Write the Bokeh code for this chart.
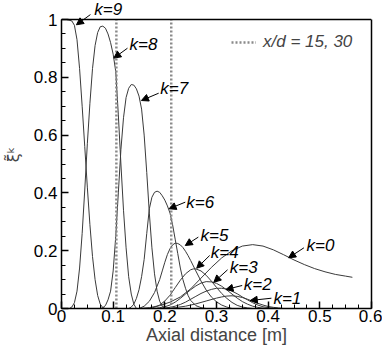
import numpy as np
from bokeh.plotting import figure
from bokeh.models import (Range1d, FixedTicker, Label, Arrow, NormalHead, Legend, LegendItem,
                          Span, LinearAxis)
from bokeh.embed import file_html
from bokeh.resources import INLINE

# ---------------- data ----------------
k9_x = [0.0, 0.01, 0.02, 0.025, 0.03, 0.035, 0.04, 0.045, 0.05, 0.055, 0.06, 0.065, 0.07, 0.075, 0.08, 0.085]
k9_y = [1.0, 1.0, 0.995, 0.98, 0.93, 0.83, 0.70, 0.56, 0.42, 0.29, 0.18, 0.10, 0.045, 0.015, 0.003, 0.0]

k8_x = [0.015, 0.02, 0.025, 0.03, 0.035, 0.04, 0.045, 0.05, 0.055, 0.06, 0.065, 0.07, 0.075, 0.08,
        0.085, 0.09, 0.095, 0.1, 0.105, 0.11, 0.115, 0.12, 0.125, 0.13, 0.135, 0.14, 0.145]
k8_y = [0.0, 0.005, 0.02, 0.06, 0.14, 0.26, 0.41, 0.57, 0.71, 0.83, 0.91, 0.955, 0.975, 0.977,
        0.97, 0.95, 0.92, 0.88, 0.82, 0.67, 0.50, 0.34, 0.21, 0.11, 0.05, 0.015, 0.0]

k7_x = [0.075, 0.08, 0.085, 0.09, 0.095, 0.1, 0.105, 0.11, 0.115, 0.12, 0.125, 0.13, 0.135, 0.14,
        0.145, 0.15, 0.155, 0.16, 0.165, 0.17, 0.175, 0.18, 0.185, 0.19, 0.195, 0.2]
k7_y = [0.0, 0.003, 0.01, 0.03, 0.06, 0.13, 0.25, 0.40, 0.55, 0.66, 0.73, 0.762, 0.775, 0.773,
        0.76, 0.735, 0.69, 0.60, 0.47, 0.33, 0.21, 0.12, 0.06, 0.025, 0.008, 0.0]

k6_x = [0.13, 0.135, 0.14, 0.145, 0.15, 0.155, 0.16, 0.165, 0.17, 0.175, 0.18, 0.185, 0.19, 0.195,
        0.2, 0.205, 0.21, 0.215, 0.22, 0.225, 0.23, 0.235, 0.24, 0.245, 0.25, 0.26, 0.27, 0.28]
k6_y = [0.0, 0.005, 0.015, 0.035, 0.065, 0.11, 0.17, 0.26, 0.345, 0.385, 0.402, 0.406, 0.402, 0.39,
        0.375, 0.355, 0.33, 0.29, 0.24, 0.19, 0.14, 0.10, 0.07, 0.045, 0.028, 0.01, 0.003, 0.0]

k5_x = [0.15, 0.16, 0.17, 0.18, 0.19, 0.195, 0.2, 0.205, 0.21, 0.215, 0.22, 0.225, 0.23, 0.235,
        0.24, 0.245, 0.25, 0.26, 0.27, 0.28, 0.29, 0.3, 0.31, 0.32, 0.33]
k5_y = [0.0, 0.008, 0.025, 0.055, 0.10, 0.13, 0.16, 0.187, 0.207, 0.22, 0.226, 0.225, 0.22, 0.211,
        0.198, 0.183, 0.166, 0.13, 0.095, 0.064, 0.04, 0.023, 0.012, 0.005, 0.0]

k4_x = [0.17, 0.18, 0.19, 0.2, 0.21, 0.22, 0.23, 0.24, 0.25, 0.255, 0.26, 0.27, 0.28, 0.29, 0.3,
        0.31, 0.32, 0.33, 0.34, 0.35, 0.36, 0.37]
k4_y = [0.0, 0.004, 0.012, 0.026, 0.046, 0.072, 0.098, 0.12, 0.134, 0.137, 0.137, 0.13, 0.115,
        0.095, 0.073, 0.052, 0.035, 0.021, 0.011, 0.005, 0.002, 0.0]

k3_x = [0.18, 0.19, 0.2, 0.21, 0.22, 0.23, 0.24, 0.25, 0.26, 0.27, 0.28, 0.29, 0.3, 0.31, 0.32,
        0.33, 0.34, 0.35, 0.36, 0.37, 0.38, 0.39, 0.4]
k3_y = [0.0, 0.003, 0.006, 0.012, 0.022, 0.035, 0.05, 0.065, 0.078, 0.088, 0.093, 0.092, 0.087,
        0.077, 0.064, 0.05, 0.036, 0.024, 0.015, 0.008, 0.004, 0.001, 0.0]

k2_x = [0.19, 0.2, 0.21, 0.22, 0.23, 0.24, 0.25, 0.26, 0.27, 0.28, 0.29, 0.3, 0.31, 0.32, 0.33,
        0.34, 0.35, 0.36, 0.37, 0.38, 0.39, 0.4, 0.41, 0.42]
k2_y = [0.0, 0.002, 0.004, 0.008, 0.014, 0.022, 0.032, 0.042, 0.052, 0.06, 0.066, 0.07, 0.07,
        0.067, 0.06, 0.051, 0.04, 0.03, 0.02, 0.012, 0.006, 0.003, 0.001, 0.0]

k1_x = [0.2, 0.22, 0.24, 0.26, 0.28, 0.3, 0.31, 0.32, 0.33, 0.34, 0.35, 0.36, 0.37, 0.38, 0.39,
        0.4, 0.41, 0.42, 0.43]
k1_y = [0.0, 0.003, 0.008, 0.016, 0.026, 0.036, 0.04, 0.043, 0.044, 0.042, 0.038, 0.032, 0.025,
        0.018, 0.012, 0.007, 0.004, 0.002, 0.0]

k0_x = [0.15, 0.17, 0.19, 0.21, 0.23, 0.25, 0.27, 0.29, 0.31, 0.33, 0.35, 0.37, 0.39, 0.41, 0.43,
        0.45, 0.47, 0.49, 0.51, 0.53, 0.55, 0.563]
k0_y = [0.0, 0.003, 0.01, 0.022, 0.04, 0.068, 0.105, 0.142, 0.175, 0.2, 0.216, 0.221, 0.216, 0.203,
        0.186, 0.168, 0.152, 0.138, 0.127, 0.118, 0.112, 0.108]

# x/d markers
xd_values = [15, 30]
d_jet = 0.00708  # m

x_ticks = [0, 0.1, 0.2, 0.3, 0.4, 0.5, 0.6]
x_tick_labels = ["0", "0.1", "0.2", "0.3", "0.4", "0.5", "0.6"]
y_ticks = [0, 0.2, 0.4, 0.6, 0.8, 1.0]
y_tick_labels = ["0", "0.2", "0.4", "0.6", "0.8", "1"]

curve_names = ["k=0", "k=1", "k=2", "k=3", "k=4", "k=5", "k=6", "k=7", "k=8", "k=9"]

# label / arrow layout (data coordinates)
label_pos = {
    "k=9": (0.0906, 1.036), "k=8": (0.1585, 0.9135), "k=7": (0.2183, 0.760),
    "k=6": (0.2686, 0.368), "k=5": (0.2962, 0.2526), "k=4": (0.316, 0.193),
    "k=3": (0.3528, 0.143), "k=2": (0.3798, 0.083), "k=1": (0.4372, 0.0336),
    "k=0": (0.5013, 0.218),
}
arrow_pos = {
    "k=9": (0.056, 1.017, 0.0289, 0.9817), "k=8": (0.1277, 0.9007, 0.1013, 0.8664),
    "k=7": (0.1881, 0.745, 0.1547, 0.7197), "k=6": (0.2396, 0.368, 0.2082, 0.345),
    "k=5": (0.2648, 0.247, 0.2396, 0.218), "k=4": (0.2868, 0.1834, 0.2617, 0.1394),
    "k=3": (0.3214, 0.1339, 0.2949, 0.091), "k=2": (0.3497, 0.0796, 0.3183, 0.0657),
    "k=1": (0.4063, 0.0356, 0.3654, 0.0277), "k=0": (0.4692, 0.21, 0.4396, 0.1754),
}

FONT = "Liberation Sans"
Y_TOP = 1 + 19 / 289  # room above the box for the k=9 label

p = figure(width=382, height=349, output_backend="svg", toolbar_location=None,
           x_range=Range1d(0, 0.6), y_range=Range1d(0, Y_TOP),
           min_border_left=53, min_border_right=11, min_border_top=0, min_border_bottom=41)
p.background_fill_color = "white"
p.border_fill_color = "white"
p.outline_line_color = None
p.xgrid.visible = False
p.ygrid.visible = False

xs_all = [k0_x, k1_x, k2_x, k3_x, k4_x, k5_x, k6_x, k7_x, k8_x, k9_x]
ys_all = [k0_y, k1_y, k2_y, k3_y, k4_y, k5_y, k6_y, k7_y, k8_y, k9_y]
for xs, ys in zip(xs_all, ys_all):
    p.line(xs, ys, line_color="#3a3a3a", line_width=1)

xd_pos = [v * d_jet for v in xd_values]
seg = p.segment(x0=xd_pos, x1=xd_pos, y0=[0, 0], y1=[1, 1], line_color="#8a8a8a",
                line_width=2.5, line_dash="2 2")

# box: top line + right axis (no ticks)
p.add_layout(Span(location=1, dimension="width", line_color="black", line_width=1.5))
right_ax = LinearAxis(bounds=(0, 1), ticker=FixedTicker(ticks=[], minor_ticks=[]),
                      axis_line_width=1.5, axis_line_color="black",
                      major_tick_line_color=None, minor_tick_line_color=None)
p.add_layout(right_ax, "right")

legend = Legend(items=[LegendItem(label="x/d = 15, 30", renderers=[seg])],
                location=(170, 256), padding=0, margin=0, spacing=0,
                glyph_width=25, glyph_height=20, label_height=20, label_standoff=7,
                border_line_color=None, background_fill_alpha=0,
                label_text_font=FONT, label_text_font_size="17px",
                label_text_font_style="italic")
p.add_layout(legend, "center")

for name in curve_names:
    lx, ly = label_pos[name]
    p.add_layout(Label(x=lx, y=ly, text=name, text_font=FONT, text_font_size="17px",
                       text_font_style="italic", text_align="center", text_baseline="middle",
                       text_color="black"))
    x0, y0, x1, y1 = arrow_pos[name]
    p.add_layout(Arrow(end=NormalHead(size=7, fill_color="black", line_color="black", line_width=1),
                       x_start=x0, y_start=y0, x_end=x1, y_end=y1, line_color="black", line_width=1))

# axes
xa = p.xaxis[0]
ya = p.yaxis[0]
xa.ticker = FixedTicker(ticks=x_ticks, minor_ticks=list(np.round(np.arange(0, 0.6001, 0.025), 4)))
ya.ticker = FixedTicker(ticks=y_ticks, minor_ticks=list(np.round(np.arange(0, 1.0001, 0.05), 4)))
xa.major_label_overrides = {t: l for t, l in zip(x_ticks, x_tick_labels)}
ya.major_label_overrides = {t: l for t, l in zip(y_ticks, y_tick_labels)}
ya.bounds = (0, 1)

for ax in (xa, ya):
    ax.axis_line_width = 1.5
    ax.axis_line_color = "black"
    ax.major_tick_in = 7
    ax.major_tick_out = 0
    ax.minor_tick_in = 4
    ax.minor_tick_out = 0
    ax.major_tick_line_width = 1.5
    ax.major_tick_line_color = "black"
    ax.minor_tick_line_color = "black"
    ax.major_label_text_font = FONT
    ax.major_label_text_font_size = "17px"
    ax.major_label_text_color = "black"

xa.axis_label = "Axial distance [m]"
xa.axis_label_text_font = FONT
xa.axis_label_text_font_size = "18px"
xa.axis_label_text_font_style = "normal"
xa.axis_label_standoff = 0
xa.major_label_standoff = 1

ya.axis_label = "ξ\u0303\u1d4f"
ya.axis_label_text_font = "DejaVu Sans"
ya.axis_label_text_font_size = "16px"
ya.axis_label_text_font_style = "normal"
ya.axis_label_standoff = 8
ya.major_label_standoff = 4

open("out.html", "w").write(file_html(p, INLINE))
